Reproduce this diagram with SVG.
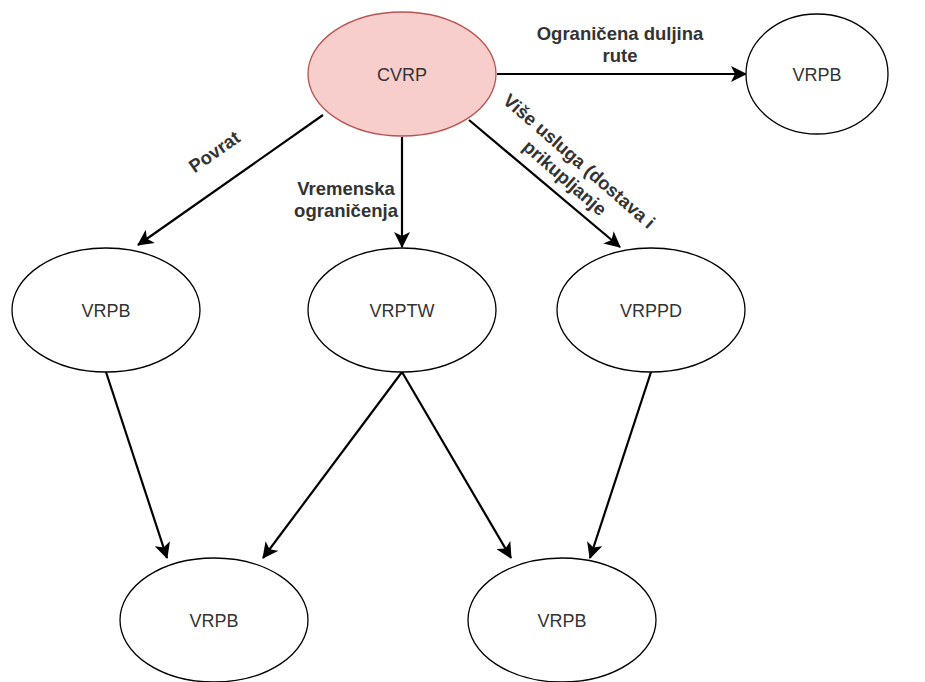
<svg xmlns="http://www.w3.org/2000/svg" width="925" height="682" viewBox="0 0 925 682">
<style>
.node{fill:#ffffff;stroke:#000000;stroke-width:1.3}
.cv{fill:#f8cecc;stroke:#b85450;stroke-width:1.3}
.nt{font-family:"Liberation Sans",Arial,sans-serif;font-size:18px;fill:#333333;text-anchor:middle}
.lb{font-family:"Liberation Sans",Arial,sans-serif;font-size:18.5px;font-weight:bold;fill:#333333;text-anchor:middle}
.e{stroke:#000000;stroke-width:2.2;fill:none;marker-end:url(#arr)}
</style>
<defs>
<marker id="arr" markerUnits="userSpaceOnUse" viewBox="0 0 16 16" markerWidth="16" markerHeight="16" refX="15" refY="8" orient="auto">
<path d="M0,0 L16,8 L0,16 L4,8 z" fill="#000000"/>
</marker>
</defs>
<rect width="925" height="682" fill="#ffffff"/>
<g id="connectors">
<line class="e" x1="497" y1="74" x2="746" y2="74"/>
<line class="e" x1="323" y1="115" x2="138" y2="245"/>
<line class="e" x1="402" y1="137" x2="402" y2="247"/>
<line class="e" x1="469" y1="120" x2="620" y2="247"/>
<line class="e" x1="106" y1="372" x2="167" y2="558"/>
<line class="e" x1="402" y1="372" x2="263" y2="558"/>
<line class="e" x1="402" y1="372" x2="511" y2="558"/>
<line class="e" x1="651" y1="372" x2="590" y2="558"/>
</g>
<g id="labels">
<text class="lb" x="620" y="40">Ograničena duljina</text>
<text class="lb" x="620" y="62">rute</text>
<text class="lb" transform="rotate(-35 218 157)" x="218" y="157">Povrat</text>
<text class="lb" x="346" y="195">Vremenska</text>
<text class="lb" x="346" y="217">ograničenja</text>
<g transform="rotate(41 575 166)">
<text class="lb" x="575" y="166">Više usluga (dostava i</text>
<text class="lb" x="575" y="188">prikupljanje</text>
</g>
</g>
<g id="cvrp">
<ellipse class="cv" cx="402" cy="74" rx="94" ry="62"/>
<text class="nt" x="402" y="81">CVRP</text>
</g>
<g id="vrpb-top">
<ellipse class="node" cx="817" cy="74" rx="71" ry="60"/>
<text class="nt" x="817" y="81">VRPB</text>
</g>
<g id="vrpb-mid">
<ellipse class="node" cx="106" cy="310" rx="94" ry="62"/>
<text class="nt" x="106" y="317">VRPB</text>
</g>
<g id="vrptw">
<ellipse class="node" cx="402" cy="310" rx="94" ry="62"/>
<text class="nt" x="402" y="317">VRPTW</text>
</g>
<g id="vrppd">
<ellipse class="node" cx="651" cy="310" rx="94" ry="62"/>
<text class="nt" x="651" y="317">VRPPD</text>
</g>
<g id="vrpb-bl">
<ellipse class="node" cx="214" cy="620" rx="94" ry="62"/>
<text class="nt" x="214" y="627">VRPB</text>
</g>
<g id="vrpb-br">
<ellipse class="node" cx="562" cy="620" rx="94" ry="62"/>
<text class="nt" x="562" y="627">VRPB</text>
</g>
</svg>
